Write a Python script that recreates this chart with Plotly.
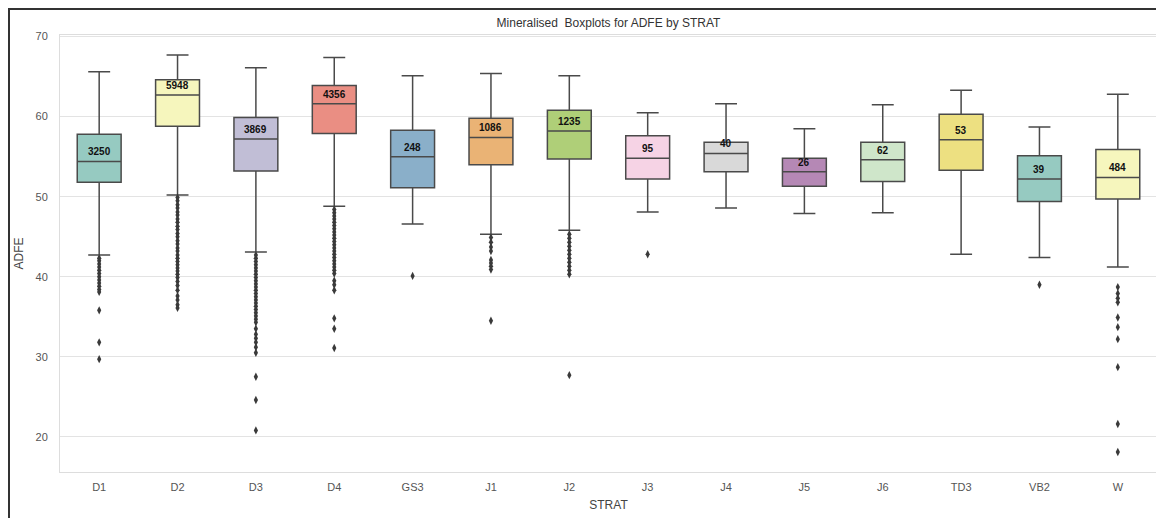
import plotly.graph_objects as go

# categories and box statistics
strat = ['D1', 'D2', 'D3', 'D4', 'GS3', 'J1', 'J2', 'J3', 'J4', 'J5', 'J6', 'TD3', 'VB2', 'W']
counts = [3250, 5948, 3869, 4356, 248, 1086, 1235, 95, 40, 26, 62, 53, 39, 484]
lower_whisker = [42.7, 50.2, 43.1, 48.8, 46.6, 45.3, 45.8, 48.1, 48.6, 47.9, 48.0, 42.8, 42.4, 41.2]
q1 = [51.8, 58.8, 53.2, 57.9, 51.1, 54.0, 54.7, 52.2, 53.1, 51.3, 51.9, 53.3, 49.4, 49.7]
median = [54.4, 62.7, 57.2, 61.6, 55.0, 57.4, 58.2, 54.8, 55.4, 53.1, 54.6, 57.1, 52.2, 52.4]
q3 = [57.8, 64.6, 59.9, 63.9, 58.3, 59.8, 60.8, 57.6, 56.8, 54.8, 56.8, 60.3, 55.1, 55.9]
upper_whisker = [65.6, 67.7, 66.1, 67.4, 65.1, 65.4, 65.1, 60.5, 61.6, 58.5, 61.5, 63.3, 58.7, 62.8]

# outliers
outliers = {
    'D1': [42.3, 42.0, 41.6, 41.2, 40.8, 40.4, 40.0, 39.6, 39.2, 38.8, 38.4, 38.1, 35.8, 31.8, 29.7],
    'D2': [49.9, 49.5, 49.0, 48.6, 48.1, 47.7, 47.2, 46.8, 46.3, 45.9, 45.4, 45.0, 44.5, 44.1,
           43.6, 43.2, 42.7, 42.3, 41.9, 41.5, 41.1, 40.7, 40.3, 39.9, 39.4, 38.9, 38.3,
           37.6, 37.1, 36.5, 36.1],
    'D3': [42.7, 42.3, 41.9, 41.5, 41.1, 40.7, 40.3, 39.9, 39.5, 39.1, 38.7, 38.3, 37.9,
           37.5, 37.1, 36.7, 36.3, 35.9, 35.5, 35.1, 34.7, 34.3, 33.5, 32.8, 32.3, 31.8,
           31.2, 30.5, 27.5, 24.6, 20.8],
    'D4': [48.4, 48.0, 47.6, 47.2, 46.8, 46.4, 46.0, 45.6, 45.2, 44.8, 44.4, 44.0, 43.6,
           43.2, 42.8, 42.4, 42.0, 41.6, 41.2, 40.8, 40.4, 39.5, 39.0, 38.3, 34.8, 33.5, 31.1],
    'GS3': [40.1],
    'J1': [44.9, 44.3, 43.7, 43.2, 42.1, 41.7, 41.3, 40.9, 34.5],
    'J2': [45.3, 44.8, 44.3, 43.8, 43.3, 42.8, 42.3, 41.8, 41.3, 40.8, 40.3, 27.7],
    'J3': [42.8],
    'VB2': [39.0],
    'W': [38.7, 37.9, 37.3, 36.8, 34.9, 33.7, 32.2, 28.7, 21.6, 18.1],
}

# seaborn Set3, desaturated
box_colors = ['#96cac1', '#f6f6bd', '#c1bed6', '#ea8e83', '#8aafc9', '#eab375', '#afcf78',
              '#f6d3e5', '#d9d9d9', '#b588b5', '#cfe6ca', '#ede081', '#96cac1', '#f6f6bd']

line_gray = '#4a4a4a'
font_family = 'Liberation Sans, Arial, sans-serif'

# page body has an 8px margin, so the figure sits at (8, 8) in the window
fig_w, fig_h = 1156, 510
m_l, m_r, m_t, m_b = 52, 7, 27, 46
plot_w = fig_w - m_l - m_r
plot_h = fig_h - m_t - m_b

fig = go.Figure()

for i, cat in enumerate(strat):
    fig.add_trace(go.Box(
        x=[cat],
        q1=[q1[i]],
        median=[median[i]],
        q3=[q3[i]],
        lowerfence=[lower_whisker[i]],
        upperfence=[upper_whisker[i]],
        fillcolor=box_colors[i],
        line=dict(color=line_gray, width=1.5),
        whiskerwidth=0.5,
        boxpoints=False,
        showlegend=False,
        hoverinfo='skip',
    ))

# outlier points
out_x = []
out_y = []
for cat in strat:
    for v in outliers.get(cat, []):
        out_x.append(cat)
        out_y.append(v)
fig.add_trace(go.Scatter(
    x=out_x, y=out_y, mode='markers',
    marker=dict(symbol='diamond-tall', size=6, color='#3a3a3a'),
    showlegend=False,
))

# counts above the medians
for i, cat in enumerate(strat):
    fig.add_annotation(
        x=cat, y=median[i] + 1.2, text='<b>%d</b>' % counts[i],
        showarrow=False, yanchor='middle',
        font=dict(size=10, color='#111111', family=font_family),
    )

# y axis title, placed by hand so it sits a little closer to the tick labels
fig.add_annotation(
    xref='paper', yref='paper', x=(10 - m_l) / plot_w, y=0.5,
    text='ADFE', textangle=-90, showarrow=False,
    xanchor='center', yanchor='middle',
    font=dict(size=12, color='#444444', family=font_family),
)

# outer frame of the image (left and top edges of the figure)
fig.add_shape(type='rect', xref='paper', yref='paper',
              x0=(1 - m_l) / plot_w, x1=(fig_w - 1 - m_l) / plot_w,
              y0=-(m_b + 20) / plot_h, y1=(plot_h + m_t - 1) / plot_h,
              line=dict(color='#333333', width=2), layer='above')

fig.update_layout(
    width=fig_w,
    height=fig_h,
    paper_bgcolor='white',
    plot_bgcolor='white',
    boxmode='overlay',
    boxgap=0.2,
    margin=dict(l=m_l, r=m_r, t=m_t, b=m_b, autoexpand=False),
    font=dict(family=font_family, size=11, color='#4d4d4d'),
    title=dict(text='Mineralised  Boxplots for ADFE by STRAT', x=0.5, xref='paper',
               y=1 - 15 / fig_h, yanchor='middle', font=dict(size=12, color='#333333')),
)
fig.update_xaxes(
    categoryorder='array', categoryarray=strat,
    range=[-0.5, 13.5], automargin=False,
    showgrid=False, showline=True, linecolor='#dddddd', linewidth=1, mirror=True,
    ticks='', ticklabelstandoff=5,
    title=dict(text='STRAT', standoff=8, font=dict(size=12, color='#444444')),
    tickfont=dict(size=11, color='#555555'),
)
fig.update_yaxes(
    range=[15.6, 70.2], automargin=False,
    tickvals=[20, 30, 40, 50, 60, 70],
    showgrid=True, gridcolor='#e3e3e3', gridwidth=1,
    showline=True, linecolor='#dddddd', linewidth=1, mirror=True,
    zeroline=False, ticks='', ticklabelstandoff=9,
    tickfont=dict(size=11, color='#555555'),
)

fig.write_html('out.html')
